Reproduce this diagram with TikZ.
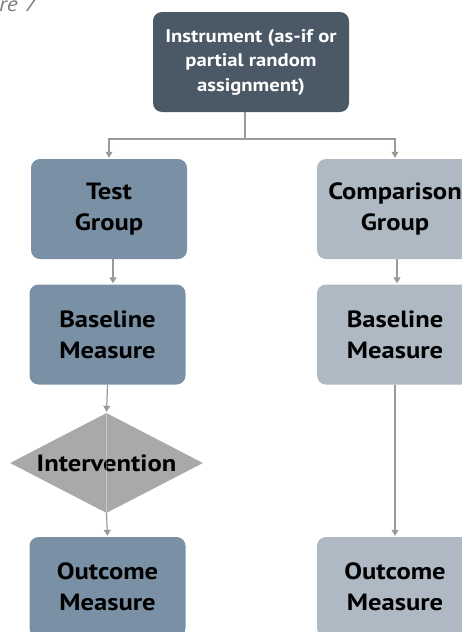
\documentclass[tikz,border=0pt]{standalone}
\usepackage{fontspec}
\setmainfont[FakeStretch=1.13]{PT Sans}
\usepackage{tikz}
\usetikzlibrary{arrows.meta, positioning, shapes.geometric}

\definecolor{instcol}{HTML}{4B5966}
\definecolor{testcol}{HTML}{7A90A5}
\definecolor{compcol}{HTML}{AFB9C4}
\definecolor{diacol}{HTML}{A9A9A9}
\definecolor{linecol}{HTML}{9A9A9A}

\begin{document}
\begin{tikzpicture}[x=1pt, y=-1pt, >={Triangle[width=7pt,length=6pt]},
  box/.style={rectangle, rounded corners=9pt, minimum width=156pt, minimum height=100pt,
    align=center, font=\fontsize{23.5}{31}\selectfont\bfseries, inner sep=0pt},
  testbox/.style={box, fill=testcol},
  compbox/.style={box, fill=compcol},
  conn/.style={draw=linecol, line width=1.2pt},
  arr/.style={conn, ->, shorten >=1pt}]
\useasboundingbox (0,0) rectangle (462,632);
\clip (0,0) rectangle (462,632);

% Caption fragment
\node[anchor=base west, inner sep=0pt, text=gray, font=\fontsize{21}{24}\selectfont\itshape] (cap) at (-1,11) {re 7};

% Top instrument
\node[box, fill=instcol, text=white, minimum width=196pt,
      font=\fontsize{18.3}{24.5}\selectfont\bfseries] (inst) at (251,62)
      {Instrument (as-if or\\partial random\\assignment)};

% Test arm
\node[testbox] (testG) at (109,209) {Test\\Group};
\node[testbox] (baseL) at (107.5,334.5) {Baseline\\Measure};
\node[diamond, aspect=1.93, fill=diacol, inner sep=0pt, minimum width=193pt, minimum height=100pt,
      font=\fontsize{23.5}{31}\selectfont\bfseries] (interv) at (106.5,463) {Intervention};
\node[testbox] (outL) at (107.5,587) {Outcome\\Measure};

% Comparison arm
\node[compbox] (compG) at (395,209) {Comparison\\Group};
\node[compbox] (baseR) at (395,334.5) {Baseline\\Measure};
\node[compbox] (outR) at (395,587) {Outcome\\Measure};

% Split below the instrument
\coordinate (split) at (245,139);
\draw[conn] (inst.south -| split) -- (split);
\draw[arr] (split) -| (testG.north);
\draw[arr] (split) -| (compG.north);

% Arrows down each arm
\draw[arr] ([xshift=4pt]testG.south) -- ([xshift=5.5pt]baseL.north);
\draw[arr] (baseL.south) -- (interv.north);
\draw[draw=white, opacity=0.35, line width=1pt] (interv.north) -- (interv.south);
\draw[arr] (interv.south) -- (outL.north);
\draw[arr] ([xshift=2pt]compG.south) -- ([xshift=2pt]baseR.north);
\draw[arr] (baseR.south) -- (outR.north);

\end{tikzpicture}
\end{document}
